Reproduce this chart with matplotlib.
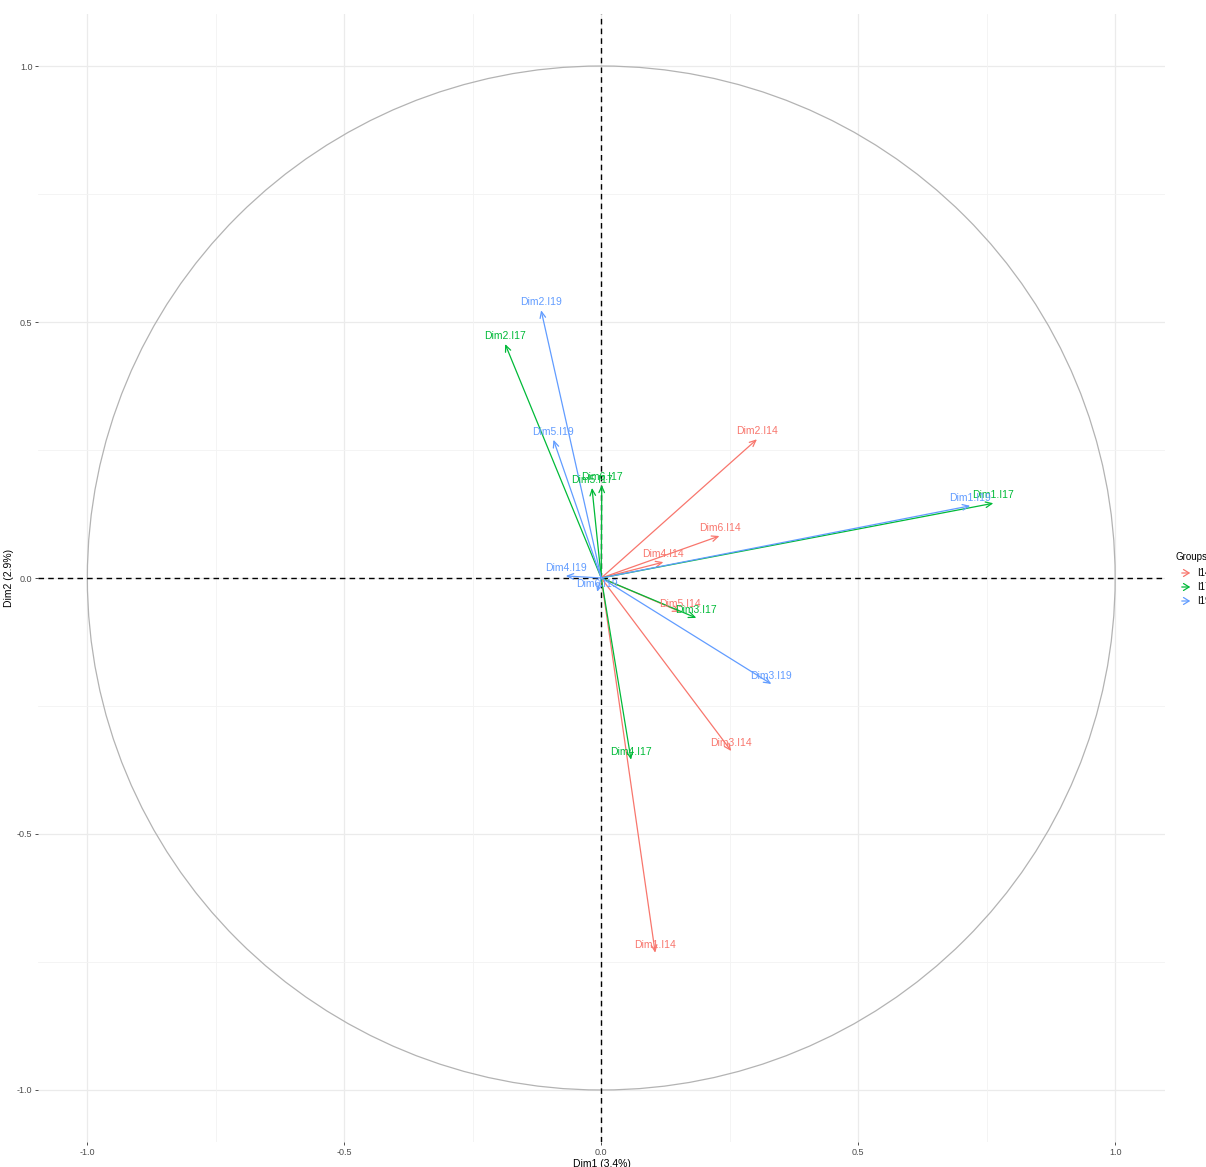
import numpy as np
import matplotlib.pyplot as plt
from matplotlib.patches import Circle, FancyArrowPatch

plt.rcParams['font.family'] = ['Liberation Sans', 'DejaVu Sans']

# variable coordinates
names_i14 = ['Dim1.I14', 'Dim2.I14', 'Dim3.I14', 'Dim4.I14', 'Dim5.I14', 'Dim6.I14']
x_i14 = [0.105, 0.303, 0.253, 0.121, 0.154, 0.230]
y_i14 = [-0.732, 0.271, -0.338, 0.031, -0.066, 0.082]

names_i17 = ['Dim1.I17', 'Dim2.I17', 'Dim3.I17', 'Dim4.I17', 'Dim5.I17', 'Dim6.I17']
x_i17 = [0.763, -0.187, 0.185, 0.058, -0.018, 0.001]
y_i17 = [0.146, 0.457, -0.078, -0.355, 0.176, 0.182]

names_i19 = ['Dim1.I19', 'Dim2.I19', 'Dim3.I19', 'Dim4.I19', 'Dim5.I19', 'Dim6.I19']
x_i19 = [0.718, -0.117, 0.331, -0.069, -0.093, -0.008]
y_i19 = [0.141, 0.523, -0.207, 0.004, 0.270, -0.027]

groups = ['I14', 'I17', 'I19']
colors = ['#F8766D', '#00BA38', '#619CFF']

W, H = 1206, 1167
fig = plt.figure(figsize=(W / 100, H / 100), dpi=100)
ax = fig.add_axes([38/W, 1 - 1142/H, (1165-38)/W, (1142-14)/H])

# grid like theme_minimal
for v in [-1, -0.5, 0, 0.5, 1]:
    ax.axvline(v, color='#EBEBEB', lw=0.9, zorder=0)
    ax.axhline(v, color='#EBEBEB', lw=0.9, zorder=0)
for v in [-0.75, -0.25, 0.25, 0.75]:
    ax.axvline(v, color='#F3F3F3', lw=0.6, zorder=0)
    ax.axhline(v, color='#F3F3F3', lw=0.6, zorder=0)

ax.add_patch(Circle((0, 0), 1, fill=False, ec='#B3B3B3', lw=0.9, zorder=1))
ax.axhline(0, color='black', ls=(0, (4, 3)), lw=1.0, zorder=2)
ax.axvline(0, color='black', ls=(0, (4, 3)), lw=1.0, zorder=2)

for names, xs, ys, col in [(names_i14, x_i14, y_i14, colors[0]),
                           (names_i17, x_i17, y_i17, colors[1]),
                           (names_i19, x_i19, y_i19, colors[2])]:
    for n, x, y in zip(names, xs, ys):
        ax.annotate('', xy=(x, y), xytext=(0, 0),
                    arrowprops=dict(arrowstyle='->,head_length=0.45,head_width=0.2',
                                    color=col, lw=0.9, shrinkA=0, shrinkB=0),
                    zorder=3)
        ax.text(x, y + 0.006, n, color=col, fontsize=7.5, ha='center', va='bottom', zorder=4)

ax.set_xlim(-1.096, 1.097)
ax.set_ylim(-1.1016, 1.1016)
ticks = [-1.0, -0.5, 0.0, 0.5, 1.0]
ax.set_xticks(ticks)
ax.set_yticks(ticks)
ax.set_xticklabels(['-1.0', '-0.5', '0.0', '0.5', '1.0'])
ax.set_yticklabels(['-1.0', '-0.5', '0.0', '0.5', '1.0'])
ax.tick_params(labelsize=6.5, colors='#4D4D4D', length=2, width=0.6, pad=2, color='#333333')
for s in ax.spines.values():
    s.set_visible(False)
ax.set_xlabel('Dim1 (3.4%)', fontsize=7.5, labelpad=2)
ax.set_ylabel('Dim2 (2.9%)', fontsize=7.5, labelpad=2)

# legend, partly cut off at the right edge
fig.text(1175/W, 1 - 557/H, 'Groups', fontsize=7, va='center', ha='left')
for i, (g, col) in enumerate(zip(groups, colors)):
    yk = 1 - (573 + 14 * i) / H
    fig.patches.append(FancyArrowPatch(
        (1179/W, yk), (1193/W, yk), transform=fig.transFigure,
        arrowstyle='->,head_length=4,head_width=2.5', color=col, lw=0.9))
    fig.text(1197/W, yk, g, fontsize=7, va='center', ha='left')

fig.savefig('out.png', dpi=100, facecolor='white')
